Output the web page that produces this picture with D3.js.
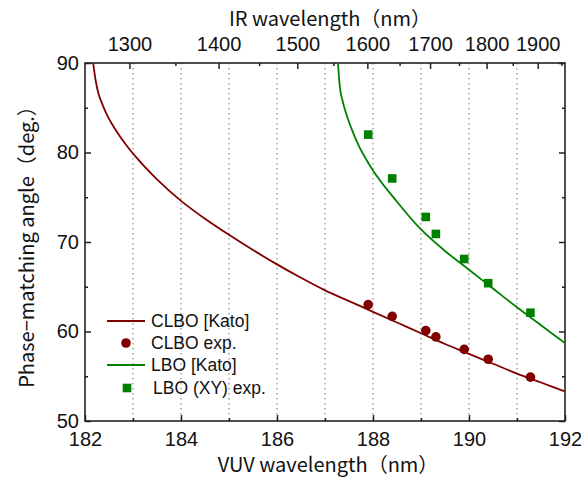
<!DOCTYPE html>
<html>
<head>
<meta charset="utf-8">
<script src="https://cdn.jsdelivr.net/npm/d3@7"></script>
<style>
  html, body { margin: 0; padding: 0; background: #fff; }
  svg { display: block; }
  .tick-label { font-family: "Liberation Sans", Arial, sans-serif; font-size: 20px; fill: #111; }
  .title { font-family: "Noto Sans CJK JP", "Noto Sans", sans-serif; font-size: 20px; fill: #111; }
  .legend { font-family: "Liberation Sans", Arial, sans-serif; font-size: 17.5px; fill: #111; }
</style>
</head>
<body>
<svg id="chart" width="581" height="483"></svg>
<script>
// Axis ticks
const vuvMajorTicks = [182, 184, 186, 188, 190, 192];
const vuvMinorTicks = [183, 185, 187, 189, 191];
const vuvGridLines = [183, 184, 185, 186, 187, 188, 189, 190, 191];
const angleMajorTicks = [50, 60, 70, 80, 90];
const angleMinorTicks = [55, 65, 75, 85];
const irMajorTicks = [1300, 1400, 1500, 1600, 1700, 1800, 1900];
const irMinorTicks = [1350, 1450, 1550, 1650, 1750, 1850, 1950];

// Fixed mixing wavelength (nm): 1/VUV = 1/IR + 1/pumpWl
const pumpWl = 212.88;

// CLBO phase-matching curve [Kato]
const clboKatoWl    = [182.17, 182.22, 182.28, 182.36, 182.45, 182.63, 182.85, 183.11, 183.5, 184.0, 184.5, 185.0, 185.5, 186.0, 186.5, 187.0, 187.5, 188.0, 188.5, 189.0, 189.5, 190.0, 190.5, 191.0, 191.5, 192.0];
const clboKatoAngle = [90.0, 88.1, 86.6, 85.4, 84.3, 82.6, 80.9, 79.2, 77.0, 74.6, 72.6, 70.8, 69.1, 67.5, 66.0, 64.6, 63.4, 62.2, 61.0, 59.8, 58.6, 57.5, 56.4, 55.3, 54.3, 53.3];

// LBO phase-matching curve [Kato]
const lboKatoWl    = [187.27, 187.31, 187.37, 187.45, 187.55, 187.70, 187.85, 188.0, 188.5, 189.0, 189.5, 190.0, 190.5, 191.0, 191.5, 192.0];
const lboKatoAngle = [90.0, 87.3, 85.7, 84.2, 82.7, 80.8, 79.3, 78.0, 74.5, 71.4, 69.0, 66.9, 64.8, 62.7, 60.7, 58.7];

// Measured points
const expWl        = [187.90, 188.40, 189.10, 189.31, 189.90, 190.40, 191.28];
const clboExpAngle = [63.0, 61.7, 60.1, 59.4, 58.0, 56.9, 54.9];
const lboExpAngle  = [82.0, 77.1, 72.8, 70.9, 68.1, 65.4, 62.1];

const clboColor = "#800000";
const lboColor = "#008000";

const svg = d3.select("#chart");
const plotLeft = 85, plotRight = 565, plotTop = 63, plotBottom = 421;

const x = d3.scaleLinear().domain([182, 192]).range([plotLeft, plotRight]);
const y = d3.scaleLinear().domain([50, 90]).range([plotBottom, plotTop]);
const irToVuv = ir => 1 / (1 / ir + 1 / pumpWl);

svg.append("defs").append("clipPath").attr("id", "plot-clip")
  .append("rect").attr("x", plotLeft).attr("y", plotTop)
  .attr("width", plotRight - plotLeft).attr("height", plotBottom - plotTop);

// Dotted vertical grid
svg.append("g").selectAll("line").data(vuvGridLines).join("line")
  .attr("x1", d => x(d)).attr("x2", d => x(d))
  .attr("y1", plotTop).attr("y2", plotBottom)
  .attr("stroke", "#8a8a8a").attr("stroke-width", 1.2)
  .attr("stroke-dasharray", "1.5,3.5");

// Axes with inward ticks
const axisColor = "#222";
function inwardAxis(axisGen, transform) {
  const g = svg.append("g").attr("transform", transform).call(axisGen);
  g.select(".domain").remove();
  g.selectAll(".tick line").attr("stroke", axisColor).attr("stroke-width", 1.5);
  return g;
}

// Bottom
const gB = inwardAxis(d3.axisBottom(x).tickValues(vuvMajorTicks).tickFormat(d3.format("d")).tickSizeInner(-6).tickSizeOuter(0).tickPadding(11), `translate(0,${plotBottom})`);
gB.selectAll("text").attr("class", "tick-label");
inwardAxis(d3.axisBottom(x).tickValues(vuvMinorTicks).tickFormat("").tickSizeInner(-3).tickSizeOuter(0), `translate(0,${plotBottom})`);

// Left
const gL = inwardAxis(d3.axisLeft(y).tickValues(angleMajorTicks).tickFormat(d3.format("d")).tickSizeInner(-6).tickSizeOuter(0).tickPadding(6), `translate(${plotLeft},0)`);
gL.selectAll("text").attr("class", "tick-label");
inwardAxis(d3.axisLeft(y).tickValues(angleMinorTicks).tickFormat("").tickSizeInner(-3).tickSizeOuter(0), `translate(${plotLeft},0)`);

// Right
inwardAxis(d3.axisRight(y).tickValues(angleMajorTicks).tickFormat("").tickSizeInner(-6).tickSizeOuter(0), `translate(${plotRight},0)`);
inwardAxis(d3.axisRight(y).tickValues(angleMinorTicks).tickFormat("").tickSizeInner(-3).tickSizeOuter(0), `translate(${plotRight},0)`);

// Top (IR wavelength)
const gT = inwardAxis(d3.axisTop(x).tickValues(irMajorTicks.map(irToVuv)).tickFormat((d, i) => irMajorTicks[i]).tickSizeInner(-6).tickSizeOuter(0).tickPadding(12), `translate(0,${plotTop})`);
gT.selectAll("text").attr("class", "tick-label");
inwardAxis(d3.axisTop(x).tickValues(irMinorTicks.map(irToVuv).filter(v => v <= 192)).tickFormat("").tickSizeInner(-3).tickSizeOuter(0), `translate(0,${plotTop})`);

// Frame
svg.append("rect").attr("x", plotLeft).attr("y", plotTop)
  .attr("width", plotRight - plotLeft).attr("height", plotBottom - plotTop)
  .attr("fill", "none").attr("stroke", axisColor).attr("stroke-width", 1.6);

// Curves
const line = d3.line().x(d => x(d[0])).y(d => y(d[1])).curve(d3.curveMonotoneX);
const plot = svg.append("g").attr("clip-path", "url(#plot-clip)");
plot.append("path").datum(d3.zip(clboKatoWl, clboKatoAngle))
  .attr("d", line).attr("fill", "none").attr("stroke", clboColor).attr("stroke-width", 1.8);
plot.append("path").datum(d3.zip(lboKatoWl, lboKatoAngle))
  .attr("d", line).attr("fill", "none").attr("stroke", lboColor).attr("stroke-width", 1.8);

// Measured markers
plot.append("g").selectAll("circle").data(d3.zip(expWl, clboExpAngle)).join("circle")
  .attr("cx", d => x(d[0])).attr("cy", d => y(d[1])).attr("r", 4.8).attr("fill", clboColor);
const sq = 8.6;
plot.append("g").selectAll("rect").data(d3.zip(expWl, lboExpAngle)).join("rect")
  .attr("x", d => x(d[0]) - sq / 2).attr("y", d => y(d[1]) - sq / 2)
  .attr("width", sq).attr("height", sq).attr("fill", lboColor);

// Titles
svg.append("text").attr("class", "title").attr("x", (plotLeft + plotRight) / 2 + 5).attr("y", 26)
  .attr("text-anchor", "middle").text("IR wavelength（nm）");
svg.append("text").attr("class", "title").attr("x", (plotLeft + plotRight) / 2 + 3).attr("y", 472)
  .attr("text-anchor", "middle").text("VUV wavelength（nm）");
svg.append("text").attr("class", "title")
  .attr("transform", `translate(34,${(plotTop + plotBottom) / 2}) rotate(-90)`)
  .attr("text-anchor", "middle").text("Phase−matching angle（deg.）");

// Legend
const legend = svg.append("g");
const items = [
  { label: "CLBO [Kato]", type: "line", color: clboColor, yy: 321, tx: 151 },
  { label: "CLBO exp.", type: "circle", color: clboColor, yy: 343, tx: 151 },
  { label: "LBO [Kato]", type: "line", color: lboColor, yy: 365, tx: 151 },
  { label: "LBO (XY) exp.", type: "square", color: lboColor, yy: 388, tx: 153 }
];
items.forEach(it => {
  if (it.type === "line") {
    legend.append("line").attr("x1", 107).attr("x2", 145).attr("y1", it.yy).attr("y2", it.yy)
      .attr("stroke", it.color).attr("stroke-width", 1.8);
  } else if (it.type === "circle") {
    legend.append("circle").attr("cx", 126).attr("cy", it.yy).attr("r", 4.8).attr("fill", it.color);
  } else {
    legend.append("rect").attr("x", 127 - sq / 2).attr("y", it.yy - sq / 2).attr("width", sq).attr("height", sq).attr("fill", it.color);
  }
  legend.append("text").attr("class", "legend").attr("x", it.tx).attr("y", it.yy).attr("dy", "0.36em").text(it.label);
});
</script>
</body>
</html>
